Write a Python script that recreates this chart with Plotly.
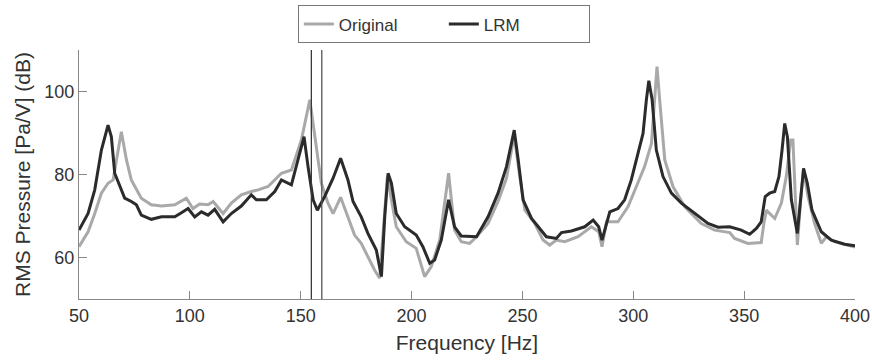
import plotly.graph_objects as go

# ---- data ----
freq_orig = [50, 54.1, 57.1, 60.1, 63.1, 65.4, 66.9, 69.1, 71.4, 73.6, 78.1, 82.6, 87.2, 93.2, 98.4, 101.4,
             104.4, 108.2, 110.5, 115.0, 118.7, 123.2, 127.7, 130.8, 135.3, 141.3, 145.8, 150.3, 154.1, 156.3,
             159.3, 162.3, 164.6, 168.0, 171.3, 174.3, 177.3, 180.3, 183.3, 185.6, 187.1, 189.1, 190.9, 193.1,
             197.6, 202.1, 205.9, 208.9, 212.7, 216.7, 219.4, 222.4, 226.2, 229.3, 234.5, 239.0, 242.8, 246.3,
             248.8, 251.1, 255.6, 259.3, 262.3, 265.3, 269.1, 275.1, 281.1, 284.4, 285.9, 287.9, 293.1, 297.6,
             301.4, 305.1, 308.2, 309.7, 310.7, 311.9, 314.2, 317.9, 323.2, 330.7, 336.7, 343.5, 345.7, 351.7,
             357.7, 358.9, 360.0, 363.8, 366.8, 369.0, 371.0, 372.0, 373.1, 374.0, 375.5, 376.8, 378.8, 381.8,
             384.8, 387.1, 390.8, 400]
db_orig = [62.6, 66.2, 70.6, 75.5, 77.9, 78.7, 83.5, 90.3, 83.5, 78.7, 74.3, 72.7, 72.4, 72.7, 74.3, 71.8,
           72.9, 72.7, 73.5, 70.6, 73.1, 75.1, 75.9, 76.3, 77.1, 80.3, 81.1, 88.3, 98.0, 89.9,
           77.9, 73.1, 70.6, 74.5, 69.8, 65.4, 63.4, 60.2, 57.0, 55.0, 65.0, 79.5, 73.9, 67.4,
           63.8, 62.2, 55.4, 57.8, 64.2, 80.3, 66.6, 63.8, 63.4, 65.0, 68.2, 73.5, 79.1, 89.5,
           79.5, 71.4, 68.2, 64.2, 63.0, 64.2, 63.8, 65.0, 67.4, 66.2, 62.6, 68.6, 68.6, 72.2,
           77.1, 81.9, 87.5, 98.0, 106.0, 98.0, 83.5, 77.1, 72.2, 68.2, 66.6, 66.0, 64.6, 63.4,
           63.6, 68.2, 71.4, 69.4, 73.1, 79.5, 88.3, 88.3, 73.9, 63.0, 73.9, 81.1, 74.7, 68.2,
           63.4, 65.0, 63.8, 62.5]

freq_lrm = [50, 54.1, 57.1, 60.1, 63.1, 64.6, 66.1, 68.4, 70.6, 73.6, 75.9, 78.1, 82.6, 87.2, 93.2, 96.2,
            99.2, 102.2, 105.2, 108.2, 111.2, 115.0, 118.7, 123.2, 127.7, 130.0, 134.5, 138.3, 141.3, 145.8,
            148.8, 151.5, 153.3, 155.6, 157.5, 160.8, 164.6, 168.0, 171.3, 173.6, 177.3, 180.3, 184.1, 186.4,
            187.9, 189.4, 190.9, 193.1, 196.9, 202.1, 205.1, 208.2, 210.4, 213.4, 216.7, 219.4, 222.4, 226.2,
            229.3, 234.5, 239.0, 242.8, 246.3, 248.1, 250.3, 254.1, 257.1, 260.8, 265.3, 267.6, 272.1, 278.1,
            281.9, 284.4, 285.9, 287.9, 289.4, 293.1, 296.1, 299.1, 302.1, 304.4, 305.9, 307.0, 308.5, 310.4,
            313.4, 317.2, 321.7, 327.7, 333.7, 338.2, 343.5, 348.7, 352.5, 355.5, 357.7, 359.5, 361.5, 363.8,
            365.7, 367.1, 368.3, 369.5, 371.3, 374.0, 375.5, 376.8, 378.5, 380.6, 384.8, 389.3, 395.3, 400]
db_lrm = [66.6, 70.6, 76.3, 85.9, 91.9, 89.1, 80.3, 77.1, 74.3, 73.5, 72.7, 70.2, 69.2, 69.8, 69.8, 70.8,
          71.8, 69.8, 71.0, 70.2, 71.6, 68.6, 70.6, 72.4, 75.1, 73.9, 73.9, 75.9, 78.7, 77.5,
          83.5, 89.1, 81.9, 73.9, 71.4, 74.7, 79.1, 83.9, 78.7, 73.5, 69.8, 65.8, 61.8, 55.4,
          69.8, 80.3, 77.9, 70.6, 67.4, 65.4, 62.6, 58.6, 59.4, 64.2, 73.9, 67.4, 65.2, 65.0,
          65.0, 69.8, 75.5, 81.9, 90.7, 83.5, 73.9, 69.4, 67.4, 65.0, 64.6, 66.0, 66.4, 67.4,
          69.0, 67.4, 64.2, 68.2, 71.0, 71.8, 73.9, 78.7, 85.1, 89.9, 98.0, 102.6, 98.0, 85.9,
          79.5, 75.5, 73.1, 70.6, 68.2, 67.3, 67.4, 66.6, 65.6, 67.0, 68.6, 74.7, 75.5, 75.9,
          79.5, 85.9, 92.3, 89.1, 73.9, 65.8, 73.9, 81.5, 77.9, 71.4, 66.2, 64.2, 63.2, 62.8]

marker_freqs = [154.8, 159.5]
x_ticks = [50, 100, 150, 200, 250, 300, 350, 400]
y_ticks = [60, 80, 100]

FONT = "Liberation Sans, Arial, sans-serif"
TXT = "#333333"

fig = go.Figure()
fig.add_trace(go.Scatter(x=freq_orig, y=db_orig, mode="lines", name="Original",
                         line=dict(color="#a9a9a9", width=3)))
fig.add_trace(go.Scatter(x=freq_lrm, y=db_lrm, mode="lines", name="LRM",
                         line=dict(color="#2b2b2b", width=3)))

for i, f in enumerate(marker_freqs):
    fig.add_shape(type="line", xref="x", yref="paper", x0=f, x1=f, y0=0, y1=1,
                  line=dict(color="#3a3a3a" if i == 0 else "#555555", width=1.3))

fig.update_layout(
    width=872, height=360,
    margin=dict(l=79, r=17, t=50, b=61, autoexpand=False),
    paper_bgcolor="white", plot_bgcolor="white",
    font=dict(family=FONT, color=TXT, size=18),
    showlegend=True,
    legend=dict(orientation="h", x=0.282, xanchor="left", y=0.985, yanchor="top", yref="container",
                bordercolor="#777777", borderwidth=1, bgcolor="white",
                font=dict(size=17, color=TXT), entrywidth=100,
                tracegroupgap=0),
    xaxis=dict(range=[50, 400], tickvals=x_ticks, ticks="inside", ticklen=8, tickcolor="#888888",
               showline=True, linecolor="#888888", linewidth=1.2, showgrid=False, zeroline=False,
               title=dict(text="Frequency [Hz]", font=dict(size=21, color=TXT), standoff=10),
               tickfont=dict(size=18, color=TXT)),
    yaxis=dict(range=[50, 110], tickvals=y_ticks, ticks="inside", ticklen=8, tickcolor="#888888",
               showline=True, linecolor="#888888", linewidth=1.2, showgrid=False, zeroline=False,
               title=dict(text="RMS Pressure [Pa/V] (dB)", font=dict(size=21, color=TXT), standoff=7),
               tickfont=dict(size=18, color=TXT)),
)

# remove the default page margin so the 872x360 figure fills the window exactly
fig.write_html("out.html", config={"displayModeBar": False},
               post_script="document.body.style.margin='0';document.body.style.overflow='hidden';")
